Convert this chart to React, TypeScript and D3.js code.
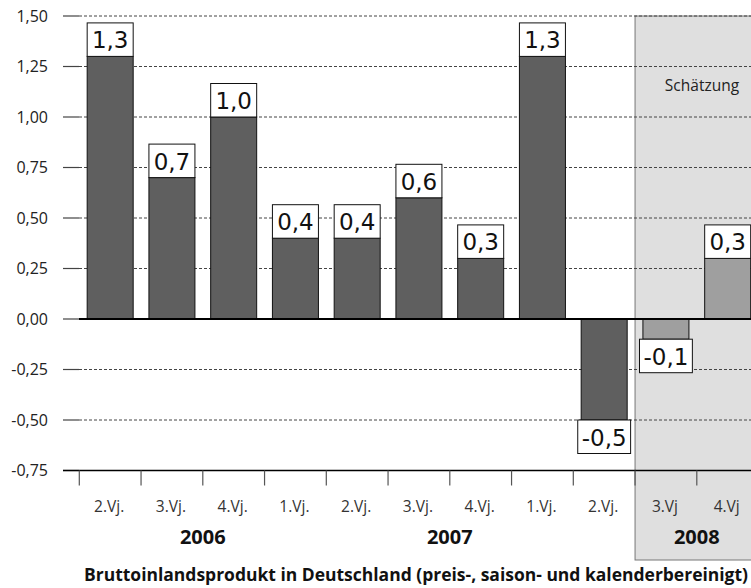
import React from "react";
import * as d3 from "d3";

const quarters = ["2.Vj.", "3.Vj.", "4.Vj.", "1.Vj.", "2.Vj.", "3.Vj.", "4.Vj.", "1.Vj.", "2.Vj.", "3.Vj", "4.Vj"];
const values = [1.3, 0.7, 1.0, 0.4, 0.4, 0.6, 0.3, 1.3, -0.5, -0.1, 0.3];
const estimated = [false, false, false, false, false, false, false, false, false, true, true];
const years = ["2006", "2007", "2008"];
const yearAnchorIndex = [2, 6, 10];
const yTicks = [1.5, 1.25, 1.0, 0.75, 0.5, 0.25, 0, -0.25, -0.5, -0.75];
const estimateLabel = "Schätzung";
const title = "Bruttoinlandsprodukt in Deutschland (preis-, saison- und kalenderbereinigt)";

const W = 751;
const H = 588;
const x0 = 79.3;
const stepPx = 61.75;
const ids = quarters.map((_, i) => String(i));

export default function App() {
  const y = d3.scaleLinear().domain([-0.75, 1.5]).range([470.5, 16]);
  const x = d3
    .scaleBand<string>()
    .domain(ids)
    .range([x0, x0 + stepPx * ids.length])
    .paddingInner(0.255)
    .paddingOuter(0.1275);
  const step = x.step();
  const bw = x.bandwidth();
  const boundary = (i: number) => (x(String(i)) as number) - (x.paddingInner() * step) / 2;
  const fmt = (v: number) => d3.format(".1f")(v).replace(".", ",").replace("\u2212", "-");
  const fmtTick = (v: number) => d3.format(".2f")(v).replace(".", ",").replace("\u2212", "-");
  const labelFont = 23;
  const charW = (c: string) => (c === "," ? 0.318 : c === "-" ? 0.361 : 0.636) * labelFont;
  const textWidth = (s: string) => s.split("").reduce((a, c) => a + charW(c), 0);
  const shadeX = boundary(9);
  const sans = "'Open Sans', 'DejaVu Sans', sans-serif";

  return (
    <svg
      width={W}
      height={H}
      style={{ position: "absolute", left: 0, top: 0, background: "#fff" }}
      fontFamily={sans}
    >
      {/* estimate region */}
      <rect x={shadeX} y={y(1.5)} width={W - shadeX + 10} height={560 - y(1.5)} fill="#dfdfdf" stroke="#777" strokeWidth={1} />
      <text x={702} y={91} textAnchor="middle" fontSize={15.5} fill="#222">
        {estimateLabel}
      </text>

      {/* grid */}
      {yTicks.map((t) => (
        <g key={t}>
          <line x1={63} x2={79} y1={y(t)} y2={y(t)} stroke="#444" strokeWidth={1.2} />
          {t !== 0 && t !== -0.75 && (
            <line x1={79} x2={W} y1={y(t)} y2={y(t)} stroke="#444" strokeWidth={1} strokeDasharray="3,2" />
          )}
          <text x={48} y={y(t)} dy="0.35em" textAnchor="end" fontSize={16} fill="#222">
            {fmtTick(t)}
          </text>
        </g>
      ))}

      {/* bars */}
      {values.map((v, i) => {
        const bx = x(String(i)) as number;
        const top = y(Math.max(0, v));
        const bot = y(Math.min(0, v));
        const label = fmt(v);
        const boxW = Math.max(bw, textWidth(label) + 8);
        const cx = bx + bw / 2;
        const boxH = 33.5;
        const boxY = v >= 0 ? top - boxH : bot;
        return (
          <g key={i}>
            <rect x={bx} y={top} width={bw} height={bot - top} fill={estimated[i] ? "#9f9f9f" : "#5f5f5f"} stroke="#111" strokeWidth={1} />
            <rect x={cx - boxW / 2} y={boxY} width={boxW} height={boxH} fill="#fff" stroke="#111" strokeWidth={1} />
            <text x={cx} y={boxY + boxH - 8} textAnchor="middle" fontSize={labelFont} fontFamily="'DejaVu Sans', sans-serif" fill="#111">
              {label}
            </text>
          </g>
        );
      })}

      {/* zero line */}
      <line x1={79} x2={W} y1={y(0)} y2={y(0)} stroke="#000" strokeWidth={2} />
      {/* bottom axis */}
      <line x1={63} x2={W} y1={y(-0.75)} y2={y(-0.75)} stroke="#000" strokeWidth={1.5} />
      {d3.range(ids.length).map((i) => (
        <line key={i} x1={boundary(i)} x2={boundary(i)} y1={y(-0.75)} y2={y(-0.75) + 15} stroke="#555" strokeWidth={1.2} />
      ))}
      {quarters.map((q, i) => (
        <text key={i} x={(x(String(i)) as number) + bw / 2 - 1} y={512} textAnchor="middle" fontSize={15.5} fill="#333">
          {q}
        </text>
      ))}
      {years.map((yr, k) => (
        <text key={yr} x={boundary(yearAnchorIndex[k])} y={544} textAnchor="middle" fontSize={20} fontWeight="bold" fill="#111">
          {yr}
        </text>
      ))}
      <text x={416} y={581} textAnchor="middle" fontSize={17.5} fontWeight="bold" fill="#111" textLength={664} lengthAdjust="spacingAndGlyphs">
        {title}
      </text>
    </svg>
  );
}
